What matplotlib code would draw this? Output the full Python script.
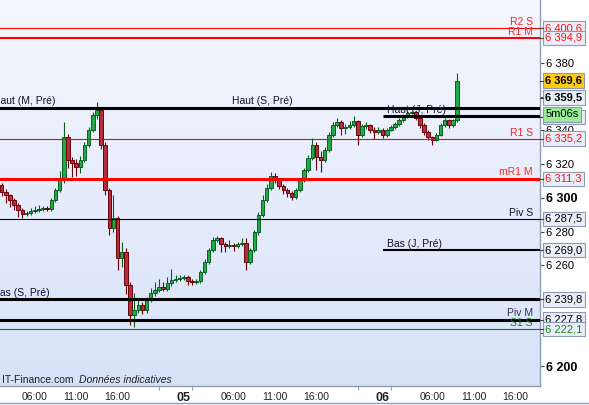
import numpy as np
import matplotlib.pyplot as plt
from matplotlib.colors import LinearSegmentedColormap

plt.rcParams['font.family'] = ['Liberation Sans', 'DejaVu Sans']

# 30 min candles, first one at 04 02:00 (hours counted from 05 00:00)
opens = [6307.7, 6303.6, 6301.8, 6298.8, 6295.8, 6292.9, 6290.5, 6291.1, 6292.3, 6292.9,
         6293.5, 6294.1, 6293.3, 6298.8, 6304.7, 6310.7, 6336.2, 6322.6, 6320.8, 6318.5,
         6322.6, 6331.5, 6340.4, 6349.3, 6352.2, 6331.5, 6304.7, 6282.2, 6288.1, 6264.4,
         6268.0, 6248.4, 6230.6, 6233.5, 6236.5, 6233.5, 6239.5, 6243.6, 6245.4, 6247.2,
         6246.0, 6249.6, 6251.3, 6251.9, 6252.5, 6252.8, 6250.7, 6250.1, 6250.9, 6256.1,
         6262.0, 6269.1, 6275.1, 6276.3, 6272.7, 6271.5, 6272.1, 6271.5, 6272.7, 6273.5,
         6262.0, 6269.1, 6279.8, 6289.9, 6298.8, 6305.9, 6313.1, 6310.7, 6307.1, 6304.7,
         6303.0, 6300.6, 6304.7, 6310.7, 6316.6, 6323.7, 6331.5, 6324.3, 6322.6, 6328.5,
         6337.4, 6343.3, 6345.1, 6341.5, 6342.1, 6343.3, 6345.7, 6337.4, 6342.5, 6343.0,
         6340.4, 6339.2, 6340.4, 6337.4, 6340.4, 6342.1, 6343.9, 6346.3, 6348.7, 6350.4,
         6351.0, 6347.5, 6343.3, 6339.2, 6336.2, 6334.4, 6337.4, 6343.3, 6346.3, 6343.5,
         6346.0]
highs = [6309.0, 6305.0, 6302.5, 6300.0, 6297.0, 6294.0, 6292.5, 6294.0, 6295.0, 6295.5,
         6295.0, 6295.0, 6300.0, 6306.0, 6316.0, 6345.1, 6338.0, 6324.0, 6323.0, 6325.0,
         6333.0, 6342.0, 6351.0, 6357.0, 6354.0, 6333.0, 6306.0, 6301.8, 6289.5, 6274.0,
         6270.0, 6250.0, 6243.6, 6240.0, 6238.0, 6241.0, 6246.6, 6250.0, 6252.0, 6250.0,
         6253.0, 6257.9, 6254.0, 6254.0, 6254.0, 6254.0, 6252.0, 6252.0, 6257.0, 6263.5,
         6270.5, 6276.5, 6277.4, 6277.0, 6274.0, 6275.0, 6273.0, 6274.0, 6276.0, 6276.3,
         6270.5, 6281.0, 6291.5, 6302.0, 6308.0, 6315.5, 6314.5, 6312.0, 6308.5, 6306.0,
         6304.0, 6306.0, 6312.0, 6318.0, 6325.5, 6335.6, 6333.0, 6328.0, 6330.0, 6339.0,
         6345.0, 6347.5, 6346.0, 6344.0, 6345.5, 6348.7, 6346.5, 6344.0, 6345.0, 6344.0,
         6342.0, 6342.0, 6341.5, 6341.5, 6343.5, 6345.0, 6347.5, 6350.0, 6351.5, 6351.6,
         6351.5, 6348.5, 6344.5, 6340.0, 6337.0, 6338.5, 6344.5, 6347.5, 6347.0, 6347.0,
         6374.2]
lows = [6301.0, 6297.0, 6294.5, 6293.0, 6288.5, 6288.0, 6289.0, 6290.0, 6291.0, 6291.5,
        6292.5, 6292.0, 6292.5, 6297.5, 6303.5, 6309.0, 6317.8, 6312.5, 6313.0, 6315.0,
        6321.0, 6330.0, 6339.0, 6347.0, 6329.0, 6302.0, 6278.0, 6279.5, 6257.0, 6259.0,
        6243.0, 6224.6, 6223.4, 6231.5, 6231.0, 6232.0, 6238.0, 6242.0, 6244.0, 6244.5,
        6245.0, 6248.0, 6250.0, 6250.5, 6251.0, 6248.5, 6248.5, 6249.0, 6249.5, 6255.0,
        6261.0, 6268.0, 6274.0, 6268.0, 6268.0, 6270.5, 6268.5, 6270.5, 6271.5, 6257.3,
        6260.5, 6268.0, 6278.0, 6288.5, 6297.5, 6304.5, 6309.0, 6305.5, 6302.5, 6300.5,
        6298.8, 6299.5, 6303.5, 6309.5, 6315.5, 6322.5, 6316.6, 6315.4, 6321.0, 6327.5,
        6336.0, 6342.0, 6337.4, 6338.0, 6341.0, 6342.0, 6331.5, 6336.0, 6341.0, 6338.5,
        6335.0, 6338.0, 6335.6, 6336.0, 6339.5, 6341.0, 6342.5, 6345.0, 6347.5, 6349.5,
        6346.0, 6341.5, 6337.5, 6334.5, 6331.5, 6333.5, 6336.5, 6342.0, 6341.5, 6342.0,
        6345.0]
closes = [6303.6, 6301.8, 6298.8, 6295.8, 6292.9, 6290.5, 6291.1, 6292.3, 6292.9, 6293.5,
          6294.1, 6293.3, 6298.8, 6304.7, 6310.7, 6336.2, 6322.6, 6320.8, 6318.5, 6322.6,
          6331.5, 6340.4, 6349.3, 6352.2, 6331.5, 6304.7, 6282.2, 6288.1, 6264.4, 6268.0,
          6248.4, 6230.6, 6233.5, 6236.5, 6233.5, 6239.5, 6243.6, 6245.4, 6247.2, 6246.0,
          6249.6, 6251.3, 6251.9, 6252.5, 6252.8, 6250.7, 6250.1, 6250.9, 6256.1, 6262.0,
          6269.1, 6275.1, 6276.3, 6272.7, 6271.5, 6272.1, 6271.5, 6272.7, 6273.5, 6262.0,
          6269.1, 6279.8, 6289.9, 6298.8, 6305.9, 6313.1, 6310.7, 6307.1, 6304.7, 6303.0,
          6300.6, 6304.7, 6310.7, 6316.6, 6323.7, 6331.5, 6324.3, 6322.6, 6328.5, 6337.4,
          6343.3, 6345.1, 6341.5, 6342.1, 6343.3, 6345.7, 6337.4, 6342.5, 6343.0, 6340.4,
          6339.2, 6340.4, 6337.4, 6340.4, 6342.1, 6343.9, 6346.3, 6348.7, 6350.4, 6351.0,
          6347.5, 6343.3, 6339.2, 6336.2, 6334.4, 6337.4, 6343.3, 6346.3, 6343.5, 6346.0,
          6369.6]
hours = -22 + 0.5 * np.arange(len(closes))

# support / resistance levels
level_values = [6400.6, 6394.9, 6353.3, 6348.5, 6335.2, 6311.3, 6287.5, 6269.0, 6239.8, 6227.8, 6222.1]
level_names = ['R2 S', 'R1 M', 'Haut (S, Pré)', 'Haut (J, Pré)', 'R1 S', 'mR1 M', 'Piv S',
               'Bas (J, Pré)', 'Bas (S, Pré)', 'Piv M', 'S1 S']
level_start = [None, None, None, 24, None, None, None, 24, None, None, None]
level_style = [('#ff0000', 0.8), ('#ff0000', 1.5), ('black', 2.2), ('black', 2.2), ('#ff0000', 0.8),
               ('#ff0000', 2.2), ('black', 0.8), ('black', 1.5), ('black', 2.2), ('black', 2.2),
               ('#1a7a1a', 0.8)]

yticks = [6200, 6220, 6240, 6260, 6280, 6300, 6320, 6340, 6360, 6380]
xlabel_pos = [-18, -13, -8, 0, 6, 11, 16, 24, 30, 35, 40]
xlabel_txt = ['06:00', '11:00', '16:00', '05', '06:00', '11:00', '16:00', '06', '06:00', '11:00', '16:00']
xmarks = [-18, -13, -8, -3, 1, 6, 11, 16, 21, 25, 30, 35, 40]

fig = plt.figure(figsize=(5.89, 4.05), dpi=100)
ax = fig.add_axes([0, 19 / 405, 540 / 589, 386 / 405])

bg = LinearSegmentedColormap.from_list('bg', ['#f5f7fe', '#d7e2f9'])
ax.imshow(np.linspace(0, 1, 256).reshape(-1, 1), cmap=bg, extent=[0, 1, 0, 1],
          transform=ax.transAxes, aspect='auto', zorder=0)

# candles
w = 0.42
for h, o, hi, lo, c in zip(hours, opens, highs, lows, closes):
    if c >= o:
        fill, edge = '#22aa48', '#0b5e20'
    else:
        fill, edge = '#b3303a', '#6e0008'
    ax.vlines(h, lo, hi, color=edge, lw=0.8, zorder=2)
    ax.bar(h, max(abs(c - o), 0.3), bottom=min(o, c), width=w, color=fill,
           edgecolor=edge, linewidth=0.7, zorder=3)

ax.set_xlim(-22.2, 43.0)
ax.set_ylim(6188.4, 6417.4)

# horizontal levels
for v, start, (col, lw) in zip(level_values, level_start, level_style):
    if start is None:
        ax.axhline(v, color=col, lw=lw, zorder=4)
    else:
        ax.hlines(v, start, 43.0, color=col, lw=lw, zorder=4)

ytr = ax.get_yaxis_transform()
lab = dict(fontsize=7.5, va='bottom', transform=ytr, zorder=5)
ax.text(0.987, 6400.6 + 0.6, 'R2 S', color='#ff2020', ha='right', **lab)
ax.text(0.987, 6394.9 + 0.6, 'R1 M', color='#ff2020', ha='right', **lab)
ax.text(0.987, 6335.2 + 0.6, 'R1 S', color='#ff2020', ha='right', **lab)
ax.text(0.987, 6311.3 + 0.8, 'mR1 M', color='#f03020', ha='right', **lab)
ax.text(0.987, 6287.5 + 0.6, 'Piv S', color='#101030', ha='right', **lab)
ax.text(0.987, 6227.8 + 0.8, 'Piv M', color='#303060', ha='right', **lab)
ax.text(0.987, 6222.1 + 0.6, 'S1 S', color='#1a7a1a', ha='right', **lab)
ax.text(-0.013, 6353.3 + 1.0, 'Haut (M, Pré)', color='#101030', ha='left', **lab)
ax.text(0.43, 6353.3 + 1.0, 'Haut (S, Pré)', color='#101030', ha='left', **lab)
ax.text(0.717, 6348.5 + 0.6, 'Haut (J, Pré)', color='#101030', ha='left', **lab)
ax.text(0.717, 6269.0 + 0.8, 'Bas (J, Pré)', color='#101030', ha='left', **lab)
ax.text(-0.013, 6239.8 + 1.0, 'Bas (S, Pré)', color='#101030', ha='left', **lab)

ax.text(0.003, 0.016, 'IT-Finance.com', transform=ax.transAxes, fontsize=7.5,
        color='#202020', va='center', zorder=5)
ax.text(0.146, 0.016, 'Données indicatives', transform=ax.transAxes, fontsize=7.5,
        color='#202020', style='italic', va='center', zorder=5)

# axes styling
for s in ['left', 'top']:
    ax.spines[s].set_visible(False)
for s in ['right', 'bottom']:
    ax.spines[s].set_color('#8d9db5')
    ax.spines[s].set_linewidth(1.0)

ax.yaxis.tick_right()
ax.set_yticks(yticks)
ax.set_yticklabels(['{:,}'.format(t).replace(',', ' ') for t in yticks])
ax.tick_params(axis='y', length=3, width=0.8, color='#404040', pad=1, labelsize=8)
for t, tl in zip(yticks, ax.get_yticklabels()):
    if t in (6200, 6300):
        tl.set_fontweight('bold')
        tl.set_fontsize(9)

ax.set_xticks(xlabel_pos)
ax.set_xticklabels(xlabel_txt)
ax.set_xticks(xmarks, minor=True)
ax.tick_params(axis='x', which='major', length=0, pad=4, labelsize=7.5, labelcolor='#202020')
ax.tick_params(axis='x', which='minor', length=3, width=0.8, color='#8d9db5')
for tl in ax.get_xticklabels():
    if tl.get_text() in ('05', '06'):
        tl.set_fontweight('bold')
        tl.set_fontsize(9)

# price boxes on the right axis
box_values = [6400.6, 6394.9, 6369.6, 6359.5, 6348.0, 6335.2, 6311.3, 6287.5, 6269.0, 6239.8, 6227.8, 6222.1]
box_colors = ['#ff1010', '#ff1010', 'black', 'black', 'black', '#ff1010', '#ff1010', 'black',
              'black', 'black', 'black', '#1a8a1a']
for v, col in zip(box_values, box_colors):
    face = '#e9eef8'
    weight = 'normal'
    if v == 6369.6:
        face, weight = '#ffcc10', 'bold'
    elif v == 6359.5:
        weight = 'bold'
    txt = '{:,.1f}'.format(v).replace(',', ' ').replace('.', ',')
    ax.annotate(txt, xy=(1, v), xycoords=ytr, xytext=(3.8, 0), textcoords='offset points',
                ha='left', va='center', fontsize=8, color=col, fontweight=weight,
                bbox=dict(boxstyle='square,pad=0.2', fc=face, ec='#8c9bb3', lw=0.8),
                annotation_clip=False, zorder=6)
    ax.plot([1, 1.006], [v, v], transform=ytr, color='#404040', lw=0.8, clip_on=False, zorder=6)

ax.annotate('5m06s', xy=(1, 6349.6), xycoords=ytr, xytext=(3.8, 0), textcoords='offset points',
            ha='left', va='center', fontsize=8, color='black',
            bbox=dict(boxstyle='square,pad=0.2', fc='#98ec98', ec='#8c9bb3', lw=0.8),
            annotation_clip=False, zorder=7)

fig.add_artist(plt.Line2D([0, 1], [0.004, 0.004], color='#8d9db5', lw=1.0))

fig.savefig('out.png', dpi=100)
